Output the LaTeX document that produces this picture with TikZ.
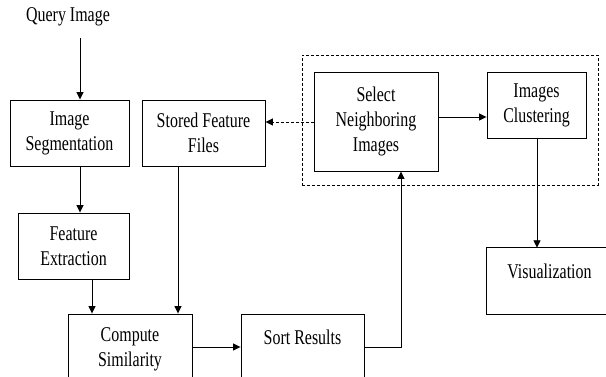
\documentclass[tikz,border=0pt]{standalone}
\usepackage{fontspec}
\setmainfont{Liberation Serif}[FakeStretch=0.76]
\usetikzlibrary{arrows.meta}
\begin{document}
\begin{tikzpicture}[x=1pt,y=-1pt,
  every node/.style={font=\fontsize{21}{25}\selectfont},
  box/.style={draw, line width=0.9pt, inner sep=0pt, align=center},
  lbl/.style={inner sep=0pt, align=center},
  edge/.style={line width=0.9pt},
  arr/.style={line width=0.9pt, -{Triangle[length=7.5pt,width=7pt]}},
  grp/.style={draw, line width=0.9pt, dash pattern=on 3pt off 2pt, inner sep=0pt}]
\useasboundingbox (0,0) rectangle (606,377);
\clip (0,0) rectangle (606,377);
\node[lbl] (query) at (68,17) {Query Image};
\node[box, minimum width=119pt, minimum height=66pt] (seg) at (69.5,133) {Image\\Segmentation};
\node[box, minimum width=123pt, minimum height=66pt] (stored) at (203.5,133) {Stored Feature\\Files};
\node[box, minimum width=111pt, minimum height=66pt] (feat) at (73.5,246) {Feature\\Extraction};
\node[box, minimum width=124pt, minimum height=80pt] (comp) at (130,354) {};
\node[lbl] (compt) at (130,349) {Compute\\Similarity};
\node[box, minimum width=123pt, minimum height=80pt] (sort) at (302.5,354) {};
\node[lbl] (sortt) at (302.5,337) {Sort Results};
\node[grp, minimum width=296pt, minimum height=130pt] (grp) at (450,120) {};
\node[box, minimum width=124pt, minimum height=99pt] (sel) at (376,121.5) {Select\\Neighboring\\Images};
\node[box, minimum width=99pt, minimum height=66pt] (clus) at (536.5,105) {Images\\Clustering};
\node[inner sep=0pt, minimum width=140pt, minimum height=66pt] (vis) at (557,281) {};
\draw[edge] (vis.north east) -- (vis.north west) -- (vis.south west) -- (vis.south east);
\node[lbl] (vist) at (549.5,271) {Visualization};
\coordinate (q1) at (80,38);
\draw[arr] (q1) -- (q1 |- seg.north);
\draw[arr] (80,0 |- seg.south) -- (80,0 |- feat.north);
\draw[arr] (92,0 |- feat.south) -- (92,0 |- comp.north);
\draw[arr] (178,0 |- stored.south) -- (178,0 |- comp.north);
\draw[arr] (comp.east |- 0,347) -- (sort.west |- 0,347);
\draw[arr] (sort.east |- 0,347) -| (sel.south -| 401,0);
\draw[arr] (sel.east |- 0,117) -- (clus.west |- 0,117);
\draw[arr] (537,0 |- clus.south) -- (537,0 |- vis.north);
\draw[arr, dash pattern=on 3pt off 2pt] (sel.west |- 0,122) -- (stored.east |- 0,122);
\end{tikzpicture}
\end{document}
